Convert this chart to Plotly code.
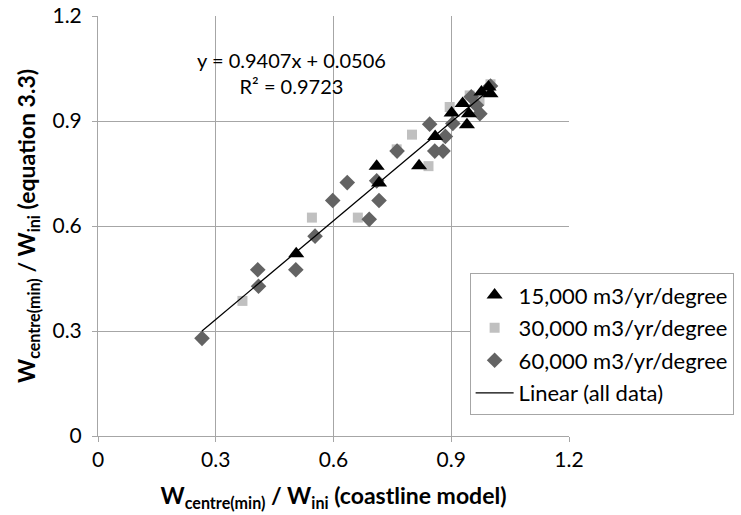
import plotly.graph_objects as go

# Normalised minimum centre width: coastline model (x) vs equation 3.3 (y)
x_15k = [0.505, 0.710, 0.716, 0.818, 0.859, 0.901, 0.929, 0.940, 0.945, 0.977, 0.995, 1.000]
y_15k = [0.521, 0.771, 0.723, 0.772, 0.856, 0.923, 0.950, 0.889, 0.921, 0.983, 0.997, 0.978]

x_30k = [0.368, 0.545, 0.662, 0.761, 0.800, 0.842, 0.896, 0.947, 0.972, 1.000]
y_30k = [0.386, 0.624, 0.624, 0.819, 0.861, 0.771, 0.940, 0.973, 0.959, 1.005]

x_60k = [0.265, 0.407, 0.409, 0.504, 0.553, 0.598, 0.635, 0.691, 0.716, 0.710,
         0.762, 0.858, 0.879, 0.845, 0.885, 0.904, 0.951, 0.964, 0.973, 1.000]
y_60k = [0.279, 0.475, 0.428, 0.475, 0.571, 0.673, 0.724, 0.619, 0.673, 0.729,
         0.814, 0.814, 0.814, 0.891, 0.856, 0.893, 0.969, 0.945, 0.921, 1.000]

# Linear fit over all data
slope = 0.9407
intercept = 0.0506
r_squared = 0.9723

tick_vals = [0, 0.3, 0.6, 0.9, 1.2]
tick_text = ["0", "0.3", "0.6", "0.9", "1.2"]

all_x = x_15k + x_30k + x_60k
fit_x = [min(all_x), max(all_x)]
fit_y = [slope * v + intercept for v in fit_x]

FONT = "Lato"
grid_col = "#a6a6a6"

fig = go.Figure()

fig.add_trace(go.Scatter(
    x=x_30k, y=y_30k, mode="markers", name="30,000 m3/yr/degree",
    marker=dict(symbol="square", size=10, color="#c0c0c0", line=dict(width=0)),
    legendrank=2, legendgroup="b",
))
fig.add_trace(go.Scatter(
    x=x_60k, y=y_60k, mode="markers", name="60,000 m3/yr/degree",
    marker=dict(symbol="diamond", size=12, color="#636363", line=dict(width=0)),
    legendrank=3, legendgroup="c",
))
fig.add_trace(go.Scatter(
    x=x_15k, y=y_15k, mode="markers", name="15,000 m3/yr/degree",
    marker=dict(symbol="triangle-up", size=14, color="#000000", line=dict(width=0)),
    legendrank=1, legendgroup="a",
))
fig.add_trace(go.Scatter(
    x=fit_x, y=fit_y, mode="lines", name="Linear (all data)",
    line=dict(color="#000000", width=1.3),
    legendrank=4, legendgroup="d",
))

fig.add_annotation(
    x=0.492, y=1.036, xref="x", yref="y",
    text=f"y = {slope}x + {intercept}<br>R² = {r_squared}",
    showarrow=False, align="center",
    font=dict(family=FONT, size=20, color="#000000"),
)

axis_common = dict(
    range=[0, 1.2], tickvals=tick_vals, ticktext=tick_text,
    showgrid=True, gridcolor=grid_col, gridwidth=1,
    showline=True, linecolor=grid_col, linewidth=1,
    ticks="outside", ticklen=5, tickcolor=grid_col,
    zeroline=False, tickfont=dict(family=FONT, size=21, color="#000000"),
    fixedrange=True,
)

fig.update_xaxes(
    **axis_common,
    title=dict(text="<b>W<sub>centre(min)</sub> / W<sub>ini</sub> (coastline model)</b>",
               font=dict(family=FONT, size=23, color="#000000"), standoff=17),
)
fig.update_yaxes(
    **axis_common,
    ticklabelstandoff=6,
    title=dict(text="<b>W<sub>centre(min)</sub> / W<sub>ini</sub> (equation 3.3)</b>",
               font=dict(family=FONT, size=23, color="#000000"), standoff=10),
)

fig.update_layout(
    width=741, height=515,
    margin=dict(l=97.5, r=171.5, t=15.7, b=79.3, autoexpand=False),
    paper_bgcolor="#ffffff", plot_bgcolor="#ffffff",
    showlegend=True,
    legend=dict(
        x=0.789, y=0.3875, xanchor="left", yanchor="top",
        bgcolor="#ffffff", bordercolor=grid_col, borderwidth=1,
        font=dict(family=FONT, size=22, color="#000000"),
        tracegroupgap=1, itemwidth=38,
    ),
)

fig.write_html("out.html")
